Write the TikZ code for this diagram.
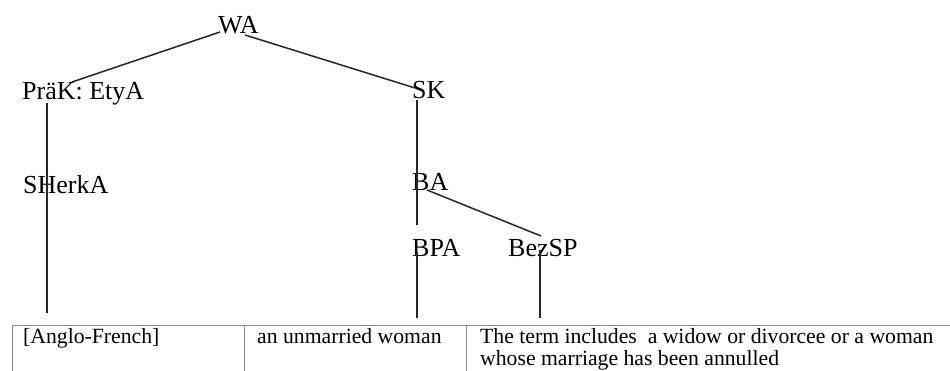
\documentclass[tikz,border=0pt]{standalone}
\usepackage{fontspec}
\setmainfont{Liberation Serif}
\usetikzlibrary{calc}
\begin{document}
\begin{tikzpicture}[x=1pt,y=-1pt,
  treelabel/.style={anchor=base west,inner sep=0pt,font=\fontsize{26}{30}\selectfont},
  cell/.style={anchor=base west,inner sep=0pt,font=\fontsize{21.7}{22}\selectfont},
  branch/.style={draw=black!85,line width=1.5pt},
  tablerule/.style={draw=black!45,line width=1pt}]
\useasboundingbox[fill=white] (0,0) rectangle (950,370);
% tree labels
\node[treelabel] (wa) at (218,33) {WA};
\node[treelabel] (prak) at (22,99) {PräK: EtyA};
\node[treelabel] (sk) at (412,98) {SK};
\node[treelabel] (sherka) at (23,193) {SHerkA};
\node[treelabel] (ba) at (412,190) {BA};
\node[treelabel] (bpa) at (412,256) {BPA};
\node[treelabel] (bezsp) at (508,256) {BezSP};
% table cells
\node[cell] (c1) at (23,343) {[Anglo-French]};
\node[cell] (c2) at (257,343) {an unmarried woman};
\node[cell] (c3a) at (480,343) {The term includes\ \ a widow or divorcee or a woman};
\node[cell] (c3b) at (480,365) {whose marriage has been annulled};
% table borders
\draw[tablerule] (12,372) -- (12,325) -- (952,325);
\draw[tablerule] (244,325) -- (244,372);
\draw[tablerule] (466,325) -- (466,372);
% connectors
\draw[branch] ($(wa.base west)+(2,-1)$) -- ($(prak.base west)+(50,-17)$);
\draw[branch] ($(wa.base west)+(27,2)$) -- ($(sk.base west)+(3,-10)$);
\draw[branch] ($(prak.base west)+(25,4)$) -- ($(c1.base west)+(24,-30)$);
\draw[branch] ($(sk.base west)+(5,2)$) -- ($(ba.base west)+(5,35)$);
\draw[branch] ($(ba.base west)+(15,0)$) -- ($(bezsp.base west)+(33,-20)$);
\draw[branch] ($(bpa.base west)+(5,-4)$) -- ($(c2.base west)+(160,-25)$);
\draw[branch] ($(bezsp.base west)+(32,-6)$) -- ($(c3a.base west)+(60,-25)$);
\end{tikzpicture}
\end{document}
